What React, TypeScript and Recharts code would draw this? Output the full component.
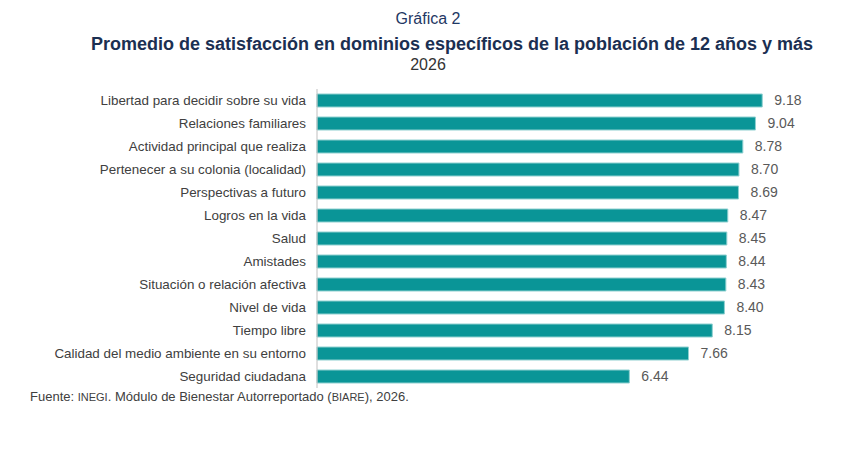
import React from 'react'
import { BarChart, Bar, XAxis, YAxis, LabelList } from 'recharts'

const dominios = [
  'Libertad para decidir sobre su vida',
  'Relaciones familiares',
  'Actividad principal que realiza',
  'Pertenecer a su colonia (localidad)',
  'Perspectivas a futuro',
  'Logros en la vida',
  'Salud',
  'Amistades',
  'Situación o relación afectiva',
  'Nivel de vida',
  'Tiempo libre',
  'Calidad del medio ambiente en su entorno',
  'Seguridad ciudadana'
]

const promedios = [9.18, 9.04, 8.78, 8.7, 8.69, 8.47, 8.45, 8.44, 8.43, 8.4, 8.15, 7.66, 6.44]

const data = dominios.map((name, i) => ({ name, valor: promedios[i] }))

const font = 'Arial, "Liberation Sans", sans-serif'

export default function App() {
  return (
    <div
      style={{
        position: 'absolute',
        left: 0,
        top: 0,
        width: 860,
        height: 454,
        background: '#fff',
        fontFamily: font,
        overflow: 'hidden'
      }}
    >
      {/* Titulos */}
      <div style={{ position: 'absolute', top: 10, left: 0, width: 856, textAlign: 'center', fontSize: 16, color: '#1f3864' }}>
        Gráfica 2
      </div>
      <div style={{ position: 'absolute', top: 34, left: 0, width: 904, textAlign: 'center', fontSize: 18, fontWeight: 'bold', color: '#1b2f52' }}>
        Promedio de satisfacción en dominios específicos de la población de 12 años y más
      </div>
      <div style={{ position: 'absolute', top: 56, left: 0, width: 856, textAlign: 'center', fontSize: 16, color: '#333' }}>
        2026
      </div>

      <div style={{ position: 'absolute', left: 0, top: 0 }}>
        <BarChart
          width={860}
          height={454}
          data={data}
          layout="vertical"
          margin={{ top: 89, right: 58, bottom: 66, left: 0 }}
        >
          <XAxis type="number" domain={[0, 10]} hide />
          <YAxis
            type="category"
            dataKey="name"
            width={317}
            axisLine={{ stroke: '#bfbfbf' }}
            tickLine={false}
            tickMargin={5}
            interval={0}
            tick={{ fontSize: 13.4, fill: '#404040', fontFamily: font }}
          />
          <Bar dataKey="valor" fill="#0a9597" stroke="#8fd0d0" strokeWidth={1} barSize={13} isAnimationActive={false}>
            <LabelList
              dataKey="valor"
              position="right"
              offset={12}
              formatter={(v: number) => v.toFixed(2)}
              style={{ fontSize: 14, fill: '#595959', fontFamily: font }}
            />
          </Bar>
        </BarChart>
      </div>

      <div style={{ position: 'absolute', top: 389, left: 30, fontSize: 13, color: '#404040' }}>
        Fuente: <span style={{ fontSize: 11 }}>INEGI</span>. Módulo de Bienestar Autorreportado (
        <span style={{ fontSize: 11 }}>BIARE</span>), 2026.
      </div>
    </div>
  )
}
